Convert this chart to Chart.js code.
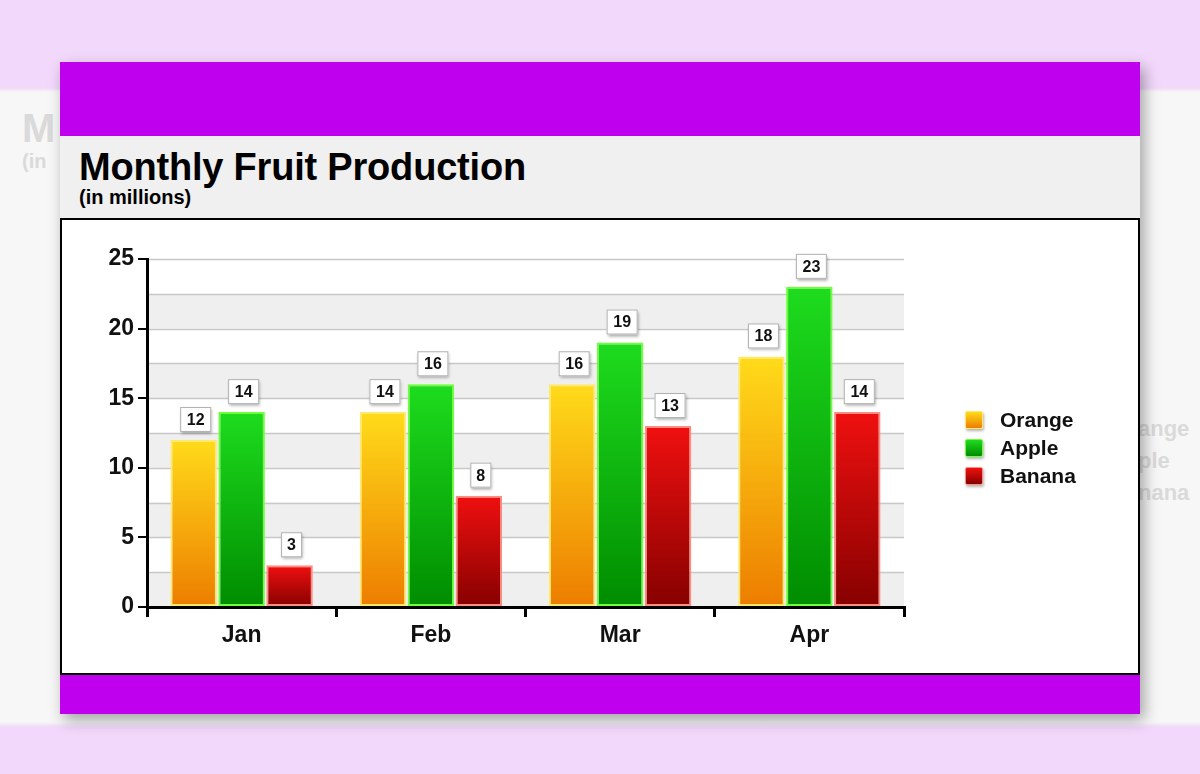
<!DOCTYPE html>
<html>
<head>
<meta charset="utf-8">
<script src="https://cdn.jsdelivr.net/npm/chart.js@4.4.1/dist/chart.umd.min.js"></script>
<style>
  html, body { margin: 0; padding: 0; }
  body {
    width: 1200px; height: 774px; overflow: hidden; position: relative;
    background: linear-gradient(#f2d8fb 0, #f2d8fb 88px, #f7f7f7 92px, #f7f7f7 722px, #f2d8fb 727px, #f2d8fb 100%);
    font-family: "Liberation Sans", Arial, sans-serif;
  }
  .ghost { position: absolute; color: #dadada; font-weight: bold; }
  .card {
    position: absolute; left: 60px; top: 62px; width: 1080px; height: 652px;
    background: #f0f0f0; box-shadow: 4px 6px 14px rgba(0,0,0,0.35);
  }
  .band-top { position: absolute; left: 0; top: 0; width: 1080px; height: 74px; background: #bf00ef; }
  .band-bot { position: absolute; left: 0; bottom: 0; width: 1080px; height: 39px; background: #bf00ef; }
  .title { position: absolute; left: 19px; top: 84px; font-size: 38px; font-weight: bold; color: #000; letter-spacing: -0.2px; }
  .subtitle { position: absolute; left: 19px; top: 124px; font-size: 20px; font-weight: bold; color: #000; }
  .plot {
    position: absolute; left: 0; top: 156px; width: 1076px; height: 453px;
    background: #fff; border: 2px solid #000;
  }
  #chart { position: absolute; left: 0; top: 0; }
  .legend { position: absolute; left: 903px; top: 186px; }
  .legend div { height: 28px; font-size: 21px; font-weight: bold; color: #111; display: flex; align-items: center; }
  .legend span { display: inline-block; width: 16px; height: 16px; margin-right: 17px; border-radius: 2px; box-shadow: 1px 2px 3px rgba(0,0,0,0.3); }
</style>
</head>
<body>
<div class="ghost" style="left:22px; top:106px; font-size:40px;">M</div>
<div class="ghost" style="left:22px; top:150px; font-size:20px;">(in</div>
<div class="ghost" style="left:1138px; top:413px; font-size:22px; line-height:32px;">ange<br>ple<br>nana</div>

<div class="card">
  <div class="band-top"></div>
  <div class="title">Monthly Fruit Production</div>
  <div class="subtitle">(in millions)</div>
  <div class="plot">
    <canvas id="chart" width="1076" height="453"></canvas>
    <div class="legend" id="legend"></div>
  </div>
  <div class="band-bot"></div>
</div>

<script>
// --- Data ---
const months = ["Jan", "Feb", "Mar", "Apr"];
const orangeValues = [12, 14, 16, 18];
const appleValues = [14, 16, 19, 23];
const bananaValues = [3, 8, 13, 14];
const seriesNames = ["Orange", "Apple", "Banana"];

// gradient colours: top, bottom, border
const palette = {
  Orange: ["#ffdb1a", "#ed7d00", "#ffe96a"],
  Apple: ["#1edc1e", "#008c00", "#6cff3a"],
  Banana: ["#f01010", "#860000", "#ff8c80"]
};

// each bar gets its own top-to-bottom gradient
function barGradient(name) {
  return (ctx) => {
    const chart = ctx.chart;
    const y = chart.scales && chart.scales.y;
    if (!chart.chartArea || !y || ctx.raw == null) return palette[name][0];
    const top = y.getPixelForValue(ctx.raw);
    const g = chart.ctx.createLinearGradient(0, top, 0, y.getPixelForValue(0));
    g.addColorStop(0, palette[name][0]);
    g.addColorStop(1, palette[name][1]);
    return g;
  };
}

// --- Legend (HTML) ---
const legendEl = document.getElementById("legend");
legendEl.innerHTML = seriesNames.map(n => `
  <div><span style="background:linear-gradient(${palette[n][0]}, ${palette[n][1]}); border:1px solid ${palette[n][2]}"></span>${n}</div>
`).join("");

// --- Alternating bands + minor grid lines (drawn before the axes) ---
const bandPlugin = {
  id: "bands",
  beforeDraw(chart) {
    const { ctx, chartArea, scales } = chart;
    const y = scales.y;
    ctx.save();
    for (let v = 0; v < 25; v += 2.5) {
      const top = y.getPixelForValue(v + 2.5);
      const bot = y.getPixelForValue(v);
      if (Math.round(v / 2.5) % 2 === 0) {
        ctx.fillStyle = "#efefef";
        ctx.fillRect(chartArea.left, top, chartArea.right - chartArea.left, bot - top);
      }
    }
    ctx.strokeStyle = "#c8c8c8";
    ctx.lineWidth = 1.5;
    for (let v = 2.5; v <= 25; v += 2.5) {
      const py = Math.round(y.getPixelForValue(v)) + 0.5;
      ctx.beginPath();
      ctx.moveTo(chartArea.left, py);
      ctx.lineTo(chartArea.right, py);
      ctx.stroke();
    }
    ctx.restore();
  }
};

// --- Value boxes above the bars ---
const labelPlugin = {
  id: "valueBoxes",
  afterDatasetsDraw(chart) {
    const { ctx } = chart;
    ctx.save();
    ctx.font = "bold 16px 'Liberation Sans', Arial, sans-serif";
    ctx.textAlign = "center";
    ctx.textBaseline = "middle";
    chart.data.datasets.forEach((ds, i) => {
      chart.getDatasetMeta(i).data.forEach((bar, j) => {
        const txt = String(ds.data[j]);
        const w = txt.length > 1 ? 31 : 21;
        const h = 25;
        const cx = bar.x + 2;
        const bottom = bar.y - 8;
        ctx.shadowColor = "rgba(0,0,0,0.35)";
        ctx.shadowBlur = 3;
        ctx.shadowOffsetX = 1;
        ctx.shadowOffsetY = 2;
        ctx.fillStyle = "#fff";
        ctx.fillRect(cx - w / 2, bottom - h, w, h);
        ctx.shadowColor = "transparent";
        ctx.strokeStyle = "#b0b0b0";
        ctx.lineWidth = 1;
        ctx.strokeRect(cx - w / 2 + 0.5, bottom - h + 0.5, w - 1, h - 1);
        ctx.fillStyle = "#111";
        ctx.fillText(txt, cx, bottom - h / 2 + 1);
      });
    });
    ctx.restore();
  }
};

const valuesByName = { Orange: orangeValues, Apple: appleValues, Banana: bananaValues };
const tickFont = { size: 23, weight: "bold", family: "'Liberation Sans', Arial, sans-serif" };

new Chart(document.getElementById("chart").getContext("2d"), {
  type: "bar",
  data: {
    labels: months,
    datasets: seriesNames.map(n => ({
      label: n,
      data: valuesByName[n],
      backgroundColor: barGradient(n),
      borderColor: palette[n][2],
      borderWidth: 2,
      borderSkipped: false,
      categoryPercentage: 0.76,
      barPercentage: 0.97
    }))
  },
  options: {
    responsive: false,
    animation: false,
    layout: { padding: { left: 0, right: 234, top: 39, bottom: 0 } },
    plugins: { legend: { display: false }, tooltip: { enabled: false } },
    scales: {
      x: {
        afterFit(scale) { scale.height = 66; },
        grid: { offset: true, drawOnChartArea: false, drawTicks: true, tickLength: 10, color: "#000", lineWidth: 3 },
        border: { color: "#000", width: 3 },
        ticks: { color: "#111", padding: 5, font: tickFont }
      },
      y: {
        min: 0, max: 25,
        afterFit(scale) { scale.width = 85; },
        grid: { drawOnChartArea: false, drawTicks: true, tickLength: 9, color: "#000", lineWidth: 2 },
        border: { color: "#000", width: 3 },
        ticks: { stepSize: 5, color: "#111", padding: 4, font: tickFont }
      }
    }
  },
  plugins: [bandPlugin, labelPlugin]
});
</script>
</body>
</html>
